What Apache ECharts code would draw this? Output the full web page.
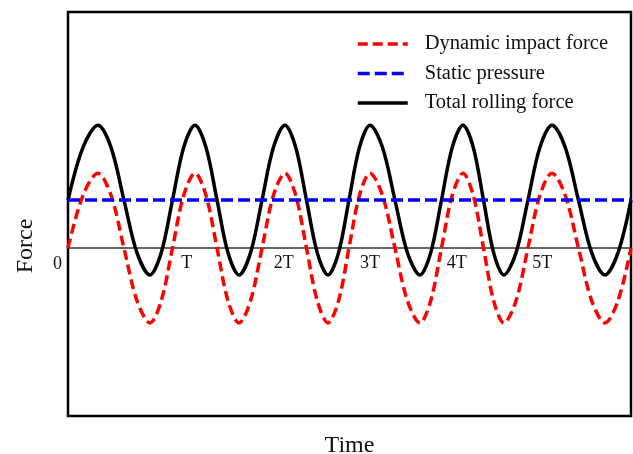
<!DOCTYPE html>
<html>
<head>
<meta charset="utf-8">
<script src="https://cdn.jsdelivr.net/npm/echarts@6/dist/echarts.min.js"></script>
<style>html,body{margin:0;padding:0;background:#fff;}#c{width:633px;height:454px;}</style>
</head>
<body>
<div id="c"></div>
<script>
// Time in units of the period T (zero crossings, eighth points, peaks and troughs)
const time = [0, 0.167, 0.333, 0.478, 0.622, 0.767, 0.911, 1.036, 1.161, 1.286, 1.411, 1.533, 1.656, 1.778, 1.9, 2.028, 2.156, 2.283, 2.411, 2.53, 2.65, 2.77, 2.889, 3.006, 3.122, 3.239, 3.356, 3.494, 3.633, 3.772, 3.911, 4.03, 4.15, 4.27, 4.389, 4.503, 4.617, 4.73, 4.844, 4.978, 5.111, 5.244, 5.378, 5.525, 5.672, 5.82, 5.967, 6.111, 6.256];
const dynamicForce = [0, 1.1, 1.56, 1.1, 0, -1.1, -1.56, -1.1, 0, 1.1, 1.56, 1.1, 0, -1.1, -1.56, -1.1, 0, 1.1, 1.56, 1.1, 0, -1.1, -1.56, -1.1, 0, 1.1, 1.56, 1.1, 0, -1.1, -1.56, -1.1, 0, 1.1, 1.56, 1.1, 0, -1.1, -1.56, -1.1, 0, 1.1, 1.56, 1.1, 0, -1.1, -1.56, -1.1, 0];
const totalForce = [1, 2.1, 2.56, 2.1, 1, -0.1, -0.56, -0.1, 1, 2.1, 2.56, 2.1, 1, -0.1, -0.56, -0.1, 1, 2.1, 2.56, 2.1, 1, -0.1, -0.56, -0.1, 1, 2.1, 2.56, 2.1, 1, -0.1, -0.56, -0.1, 1, 2.1, 2.56, 2.1, 1, -0.1, -0.56, -0.1, 1, 2.1, 2.56, 2.1, 1, -0.1, -0.56, -0.1, 1];
const staticTime = [0, 6.256];
const staticForce = [1, 1];
const seriesNames = ['Dynamic impact force', 'Static pressure', 'Total rolling force'];
const xTickValues = [1.319, 2.396, 3.356, 4.319, 5.270];
const xTickLabels = ['T', '2T', '3T', '4T', '5T'];
const yTickValues = [0];
const yTickLabels = ['0'];

const FONT = 'Liberation Serif, Times New Roman, serif';
const zip = (xs, ys) => xs.map((x, i) => [x, ys[i]]);
const Y_MIN = -3.5, Y_MAX = 4.92, GRID_TOP = 12, GRID_BOTTOM = 38, H = 454;
const plotH = H - GRID_TOP - GRID_BOTTOM;
const zeroOffset = -plotH * (0 - Y_MIN) / (Y_MAX - Y_MIN);

const chart = echarts.init(document.getElementById('c'), null, {renderer: 'canvas'});
chart.setOption({
  backgroundColor: '#fff',
  animation: false,
  grid: {left: 68, right: 2, top: GRID_TOP, bottom: GRID_BOTTOM, containLabel: false, outerBoundsMode: 'none',
    show: true, borderColor: '#000', borderWidth: 2.5, backgroundColor: 'transparent'},
  legend: {
    orient: 'vertical', left: 356, top: 33, padding: 0,
    itemWidth: 50, itemHeight: 14, itemGap: 7.5,
    data: seriesNames,
    itemStyle: {opacity: 0},
    lineStyle: {width: 3.5},
    textStyle: {fontFamily: FONT, fontSize: 20.5, color: '#111', lineHeight: 22, padding: [0, 0, 0, 12]}
  },
  xAxis: [{
    type: 'value', min: 0, max: 6.256, position: 'bottom', offset: zeroOffset,
    axisLine: {show: true, onZero: false, lineStyle: {color: '#333', width: 1.5}},
    axisTick: {show: false}, splitLine: {show: false},
    axisLabel: {
      customValues: xTickValues, margin: 6,
      fontFamily: FONT, fontSize: 18, color: '#111',
      formatter: v => xTickLabels[xTickValues.indexOf(v)] ?? ''
    }
  }, {
    type: 'value', min: 0, max: 6.256, position: 'bottom',
    axisLine: {show: false, onZero: false}, axisTick: {show: false}, axisLabel: {show: false}, splitLine: {show: false},
    name: 'Time', nameLocation: 'middle', nameGap: 18,
    nameTextStyle: {fontFamily: FONT, fontSize: 24, color: '#111'}
  }],
  yAxis: {
    type: 'value', min: Y_MIN, max: Y_MAX,
    axisLine: {show: false}, axisTick: {show: false}, splitLine: {show: false},
    axisLabel: {
      customValues: yTickValues, margin: 6, verticalAlign: 'top', padding: [7, 0, 0, 0],
      fontFamily: FONT, fontSize: 18, color: '#111',
      formatter: v => yTickLabels[yTickValues.indexOf(v)] ?? ''
    },
    name: 'Force', nameLocation: 'middle', nameGap: 30,
    nameTextStyle: {fontFamily: FONT, fontSize: 24, color: '#111', padding: [0, 64, 0, 0]}
  },
  series: [{
    name: seriesNames[0], type: 'line', smooth: 0.33, symbol: 'none', xAxisIndex: 0,
    data: zip(time, dynamicForce),
    lineStyle: {color: '#ff0000', width: 3.5, type: [10, 5]}, itemStyle: {color: '#ff0000'}, z: 3
  }, {
    name: seriesNames[1], type: 'line', symbol: 'none', xAxisIndex: 0,
    data: zip(staticTime, staticForce),
    lineStyle: {color: '#0000ff', width: 3.5, type: [12, 5]}, itemStyle: {color: '#0000ff'}, z: 4
  }, {
    name: seriesNames[2], type: 'line', smooth: 0.33, symbol: 'none', xAxisIndex: 0,
    data: zip(time, totalForce),
    lineStyle: {color: '#000', width: 3.5}, itemStyle: {color: '#000'}, z: 2
  }]
});
</script>
</body>
</html>
